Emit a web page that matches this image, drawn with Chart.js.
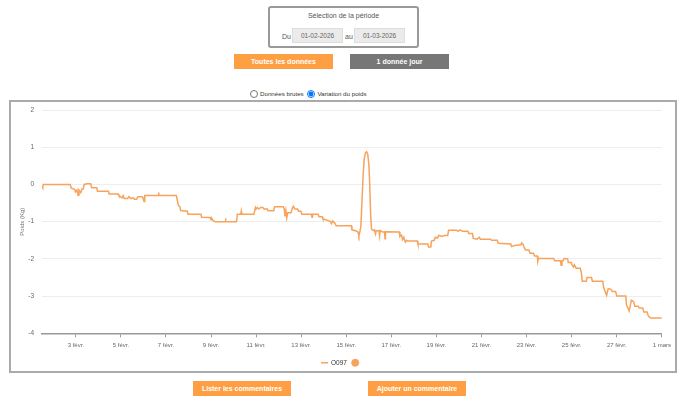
<!DOCTYPE html>
<html>
<head>
<meta charset="utf-8">
<title>Variation du poids</title>
<script src="https://cdn.jsdelivr.net/npm/chart.js@4.4.1/dist/chart.umd.min.js"></script>
<style>
	body { margin: 0; background: #fff; font-family: Arial, "Liberation Sans", sans-serif; }
	.periode { position: absolute; left: 268px; top: 6px; width: 151px; height: 42px; box-sizing: border-box;
		border: 2px solid #999; border-radius: 3px; }
	.periode .titre { position: absolute; left: 0; right: 0; top: 4px; text-align: center; font-size: 7px; color: #555; }
	.periode .mot { position: absolute; top: 25px; font-size: 7px; color: #555; }
	.periode .date { position: absolute; top: 20px; width: 51px; height: 15px; box-sizing: border-box; background: #ebebeb;
		border: 1px solid #ddd; font-size: 6.5px; color: #666; text-align: center; line-height: 13px; }
	.btn { position: absolute; height: 15px; line-height: 15px; text-align: center; color: #fff; font-weight: bold; font-size: 7px; }
	.orange { background: #fd9f42; }
	.gris { background: #777; }
	.radios { position: absolute; top: 90px; left: 250px; font-size: 6.2px; color: #333; }
	.radios input { width: 8px; height: 8px; margin: 0 2px 0 0; vertical-align: -2px; }
	.radios label { margin-right: 2px; }
	.cadre { position: absolute; left: 9px; top: 100px; width: 668px; height: 273px; box-sizing: border-box; border: 2px solid #aaa; }
	#graphe { position: absolute; left: 0; top: 0; }
</style>
</head>
<body>
	<div class="periode">
		<div class="titre">Sélection de la période</div>
		<span class="mot" style="left: 12px">Du</span>
		<div class="date" style="left: 22px">01-02-2026</div>
		<span class="mot" style="left: 75px">au</span>
		<div class="date" style="left: 84px">01-03-2026</div>
	</div>
	<div class="btn orange" style="left: 234px; top: 54px; width: 99px">Toutes les données</div>
	<div class="btn gris" style="left: 350px; top: 54px; width: 99px">1 donnée jour</div>

	<div class="radios">
		<label><input type="radio" name="mode">Données brutes</label>
		<label><input type="radio" name="mode" checked>Variation du poids</label>
	</div>

	<div class="cadre">
		<canvas id="graphe" width="664" height="269"></canvas>
	</div>

	<div class="btn orange" style="left: 193px; top: 381px; width: 98px">Lister les commentaires</div>
	<div class="btn orange" style="left: 368px; top: 381px; width: 98px">Ajouter un commentaire</div>

<script>
	// jour du mois de février (29 = 1 mars)
	const jours = [
		1.50, 1.53, 1.56, 2.75, 2.80, 2.95, 2.98, 3.05, 3.10, 3.14, 3.22, 3.28, 3.33, 3.37, 3.50, 3.66, 3.70, 3.93, 3.96, 4.45,
		4.48, 4.88, 4.91, 5.05, 5.10, 5.15, 5.30, 5.35, 5.45, 5.55, 5.60, 5.70, 5.75, 5.95, 5.98, 6.03, 6.06, 6.65, 6.67, 6.69,
		7.46, 7.55, 7.62, 7.65, 7.95, 7.98, 8.55, 8.58, 8.97, 9.00, 9.04, 9.10, 9.20, 9.62, 9.64, 9.66, 10.13, 10.17, 10.32, 10.34,
		10.36, 10.90, 10.97, 11.00, 11.05, 11.12, 11.20, 11.30, 11.35, 11.50, 11.53, 11.78, 11.82, 12.20, 12.25, 12.28, 12.32, 12.36, 12.40, 12.55,
		12.60, 12.65, 12.72, 12.84, 12.88, 12.99, 13.02, 13.45, 13.48, 13.50, 13.75, 13.79, 13.93, 13.96, 14.30, 14.34, 14.40, 14.50, 14.55, 15.22,
		15.25, 15.45, 15.52, 15.56, 15.60, 15.65, 15.70, 15.75, 15.80, 15.85, 15.90, 15.95, 16.00, 16.04, 16.08, 16.12, 16.20, 16.25, 16.30, 16.33,
		16.45, 16.48, 16.50, 16.62, 16.70, 16.72, 16.74, 17.35, 17.38, 17.45, 17.50, 17.55, 17.62, 17.68, 17.72, 18.15, 18.18, 18.62, 18.65, 18.75,
		18.78, 18.90, 18.95, 19.05, 19.10, 19.25, 19.35, 19.50, 19.54, 19.90, 19.95, 20.05, 20.15, 20.40, 20.43, 20.60, 20.63, 20.80, 20.90, 20.95,
		21.40, 21.45, 21.70, 21.74, 22.30, 22.33, 22.45, 22.75, 22.78, 22.85, 22.90, 22.95, 23.10, 23.15, 23.30, 23.35, 23.47, 23.50, 23.53, 24.20,
		24.25, 24.50, 24.53, 24.57, 24.62, 24.66, 24.82, 24.85, 24.98, 25.02, 25.08, 25.12, 25.20, 25.38, 25.43, 25.47, 25.65, 25.68, 25.88, 25.92,
		26.38, 26.42, 26.55, 26.62, 26.75, 26.80, 26.95, 27.00, 27.40, 27.43, 27.55, 27.65, 27.75, 27.80, 27.95, 28.00, 28.15, 28.20, 28.35, 28.40,
		28.50, 29.00
	];
	const variation = [
		-0.05, -0.09, 0.00, 0.00, -0.10, -0.13, -0.20, -0.15, -0.29, -0.15, -0.22, -0.12, -0.12, 0.00, 0.02, 0.02, -0.09, -0.09, -0.18, -0.18,
		-0.26, -0.26, -0.30, -0.36, -0.30, -0.38, -0.38, -0.33, -0.38, -0.36, -0.40, -0.40, -0.33, -0.33, -0.37, -0.46, -0.30, -0.30, -0.22, -0.30,
		-0.30, -0.56, -0.60, -0.70, -0.72, -0.80, -0.80, -0.88, -0.89, -0.95, -0.92, -0.98, -1.00, -1.00, -0.91, -1.00, -1.00, -0.80, -0.80, -0.72,
		-0.80, -0.80, -0.62, -0.66, -0.62, -0.66, -0.62, -0.62, -0.66, -0.66, -0.71, -0.71, -0.60, -0.60, -0.66, -0.86, -0.70, -0.90, -0.76, -0.76,
		-0.65, -0.59, -0.66, -0.66, -0.72, -0.72, -0.80, -0.80, -0.88, -0.80, -0.80, -0.87, -0.87, -0.92, -1.00, -1.05, -0.98, -1.05, -1.11, -1.11,
		-1.22, -1.25, -1.28, -1.38, -1.28, -1.10, -0.40, 0.28, 0.70, 0.85, 0.88, 0.82, 0.55, 0.00, -0.80, -1.20, -1.24, -1.22, -1.33, -1.24,
		-1.25, -1.38, -1.24, -1.28, -1.28, -1.46, -1.27, -1.28, -1.40, -1.36, -1.48, -1.42, -1.55, -1.50, -1.52, -1.52, -1.60, -1.60, -1.68, -1.68,
		-1.52, -1.50, -1.42, -1.44, -1.37, -1.40, -1.37, -1.37, -1.23, -1.23, -1.26, -1.22, -1.26, -1.26, -1.32, -1.32, -1.45, -1.47, -1.42, -1.47,
		-1.47, -1.50, -1.50, -1.58, -1.60, -1.67, -1.64, -1.62, -1.57, -1.62, -1.70, -1.76, -1.76, -1.85, -1.85, -1.92, -1.92, -2.06, -1.99, -1.99,
		-2.05, -2.05, -2.17, -2.05, -2.05, -1.99, -2.00, -2.10, -2.10, -2.17, -2.22, -2.16, -2.25, -2.25, -2.37, -2.60, -2.60, -2.50, -2.50, -2.60,
		-2.60, -2.77, -2.98, -2.80, -2.82, -2.88, -2.88, -3.00, -3.00, -3.23, -3.40, -3.11, -3.15, -3.27, -3.27, -3.32, -3.32, -3.43, -3.43, -3.54,
		-3.59, -3.59
	];
	const tickJours = [3, 5, 7, 9, 11, 13, 15, 17, 19, 21, 23, 25, 27, 29];
	const tickLabels = ['3 févr.', '5 févr.', '7 févr.', '9 févr.', '11 févr.', '13 févr.', '15 févr.', '17 févr.',
		'19 févr.', '21 févr.', '23 févr.', '25 févr.', '27 févr.', '1 mars'];
	const nomSerie = 'O097';
	const couleur = '#f7a35c';

	Chart.defaults.font.family = 'Arial, "Liberation Sans", sans-serif';

	new Chart(document.getElementById('graphe'), {
		type: 'line',
		data: {
			datasets: [{
				label: nomSerie,
				data: jours.map((j, i) => ({ x: j, y: variation[i] })),
				borderColor: couleur,
				backgroundColor: couleur,
				borderWidth: 1.5,
				pointRadius: 0,
				pointStyle: 'line',
				tension: 0,
				fill: false
			}, {
				// série des commentaires (vide sur la période)
				label: '',
				data: [],
				showLine: false,
				pointStyle: 'circle',
				borderColor: couleur,
				backgroundColor: couleur
			}]
		},
		options: {
			responsive: false,
			animation: false,
			layout: { padding: { left: 0, right: 3, top: 0, bottom: -5 } },
			plugins: {
				legend: {
					position: 'bottom',
					labels: { usePointStyle: true, boxHeight: 5, padding: 5, color: '#333', font: { size: 6.5 } }
				},
				tooltip: { enabled: false }
			},
			scales: {
				x: {
					type: 'linear',
					min: 1.5,
					max: 29,
					afterBuildTicks: s => { s.ticks = tickJours.map(v => ({ value: v })); },
					ticks: {
						autoSkip: false, maxRotation: 0, padding: 4, color: '#666', font: { size: 6 },
						callback: v => tickLabels[tickJours.indexOf(v)]
					},
					grid: { drawOnChartArea: false, tickLength: 4, color: '#999' },
					border: { color: '#999', width: 1.5 },
					afterFit: s => { s.height += 2; }
				},
				y: {
					min: -4,
					max: 2,
					ticks: { stepSize: 1, padding: 8, color: '#666', font: { size: 6.5 } },
					grid: { color: '#eee', drawTicks: false },
					border: { display: false },
					title: { display: true, text: 'Poids (Kg)', color: '#777', font: { size: 6 }, padding: { top: 8, bottom: 0 } },
					afterFit: s => { s.width = 31; s.paddingTop = 8; }
				}
			}
		}
	});
</script>
</body>
</html>
